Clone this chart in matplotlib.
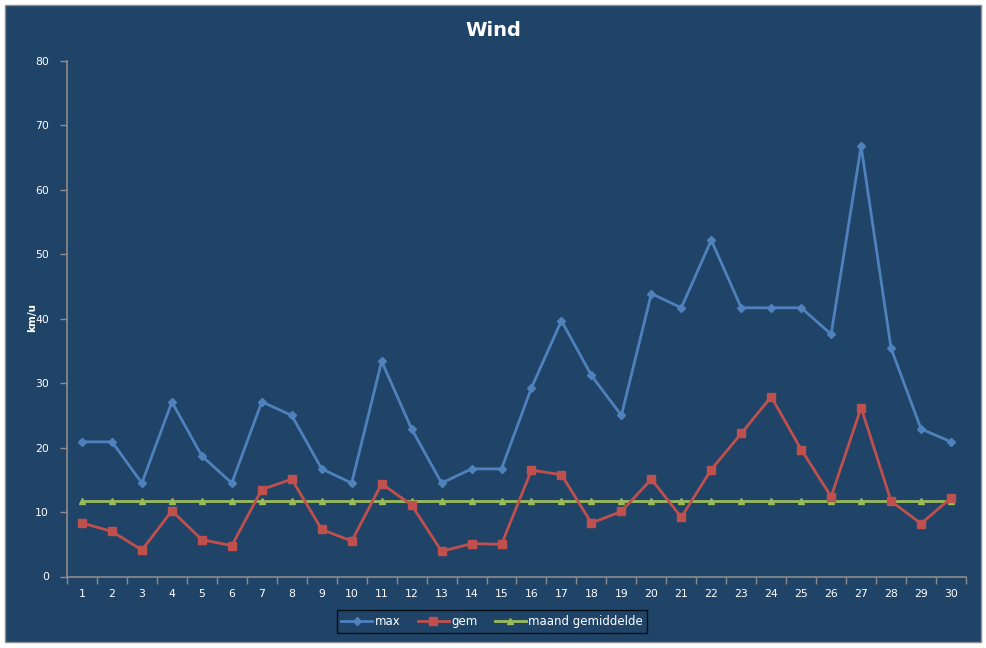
import matplotlib
matplotlib.use("Agg")
import matplotlib.pyplot as plt
from matplotlib.patches import Rectangle
import numpy as np

days = list(range(1, 31))
max_wind = [20.9, 20.9, 14.5, 27.1, 18.7, 14.5, 27.1, 25.0, 16.7, 14.5,
            33.4, 22.9, 14.5, 16.7, 16.7, 29.3, 39.7, 31.2, 25.0, 43.9,
            41.7, 52.2, 41.7, 41.7, 41.7, 37.6, 66.8, 35.4, 22.9, 20.9]
gem_wind = [8.3, 7.0, 4.1, 10.2, 5.7, 4.8, 13.5, 15.1, 7.3, 5.5,
            14.4, 11.1, 3.9, 5.1, 5.0, 16.5, 15.8, 8.3, 10.1, 15.1,
            9.2, 16.6, 22.2, 27.9, 19.7, 12.4, 26.2, 11.7, 8.2, 12.2]
maand_gem = [11.7] * 30
y_ticks = [0, 10, 20, 30, 40, 50, 60, 70, 80]

BG = "#1F4468"
W, H = 987, 648
fig = plt.figure(figsize=(W / 100, H / 100), dpi=100, facecolor="white")
fig.patches.append(Rectangle((5 / W, 1 - 642 / H), 976 / W, 637 / H,
                             transform=fig.transFigure, facecolor=BG,
                             edgecolor="#8C8C8C", linewidth=1.0, zorder=-10))

ax = fig.add_axes([67 / W, 1 - 576.5 / H, (966 - 67) / W, (576.5 - 61) / H])
ax.set_zorder(5)
ax.set_facecolor(BG)
ax.patch.set_alpha(0)

ax.plot(days, max_wind, color="#4F81BD", lw=2.0, marker="D", ms=4.5, label="max", zorder=3)
ax.plot(days, gem_wind, color="#C0504D", lw=2.0, marker="s", ms=5.8, label="gem", zorder=3)
ax.plot(days, maand_gem, color="#9BBB59", lw=2.0, marker="^", ms=5, label="maand gemiddelde", zorder=2)

ax.set_xlim(0.5, 30.5)
ax.set_ylim(0, 80)
ax.set_yticks(y_ticks)
ax.set_xticks(np.arange(0.5, 31, 1))
ax.set_xticklabels([])
ax.set_xticks(days, minor=True)
ax.set_xticklabels([str(d) for d in days], minor=True)

for s in ["top", "right"]:
    ax.spines[s].set_visible(False)
for s in ["left", "bottom"]:
    ax.spines[s].set_color("#8C8C8C")
    ax.spines[s].set_linewidth(1.2)

ax.tick_params(axis="y", which="major", direction="out", length=5, width=1,
               color="#8C8C8C", labelcolor="white", labelsize=7.8, pad=8)
ax.tick_params(axis="x", which="major", direction="out", length=5, width=1, color="#8C8C8C")
ax.tick_params(axis="x", which="minor", length=0, labelcolor="white", labelsize=7.8, pad=9)

fig.text(32 / W, 1 - 318 / H, "km/u", color="white", fontsize=7.5, fontweight="bold",
         rotation=90, ha="center", va="center")
fig.text(493 / W, 1 - 31 / H, "Wind", color="white", fontsize=14, fontweight="bold",
         ha="center", va="center")

leg = fig.legend(loc="center", bbox_to_anchor=(492 / W, 1 - 621.5 / H), ncol=3,
                 frameon=True, fontsize=8.5, handlelength=2.6, columnspacing=1.5,
                 handletextpad=0.2, borderpad=0.4, borderaxespad=0, fancybox=False)
leg.get_frame().set_facecolor(BG)
leg.get_frame().set_edgecolor("black")
leg.get_frame().set_linewidth(1.0)
for t in leg.get_texts():
    t.set_color("white")

fig.savefig("out.png", dpi=100, facecolor="white")
